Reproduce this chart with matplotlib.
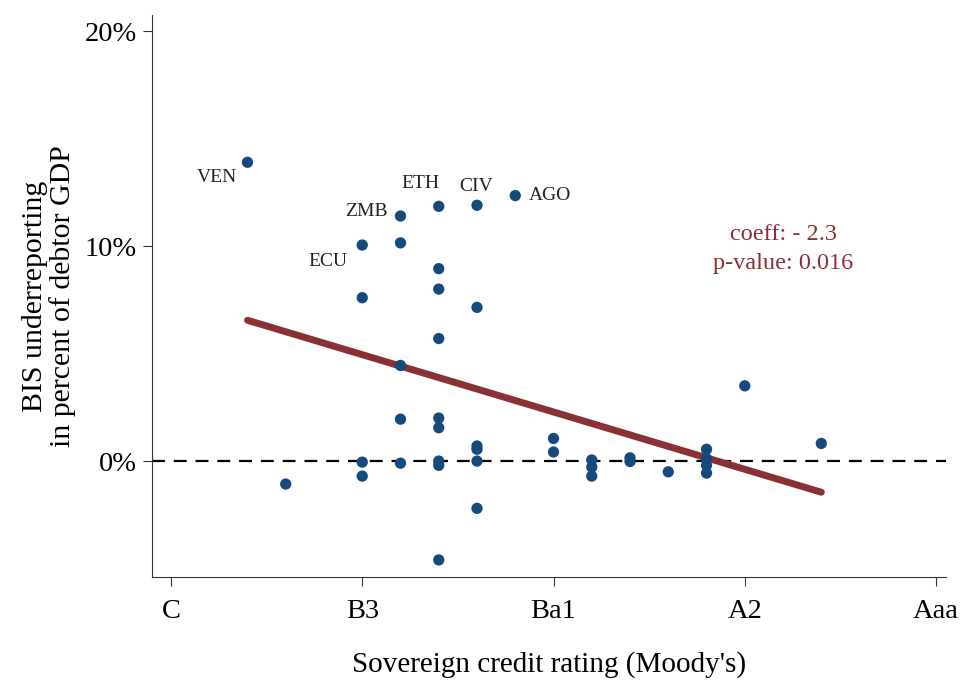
import matplotlib.pyplot as plt

plt.rcParams['font.family'] = ['Liberation Serif', 'DejaVu Serif']

# rating scale: C=0 ... Aaa=20
tick_pos = [0, 5, 10, 15, 20]
tick_labels = ["C", "B3", "Ba1", "A2", "Aaa"]

# scatter points (rating notch, underreporting in % of GDP)
rating = [2, 3,
          5, 5, 5, 5,
          6, 6, 6, 6, 6,
          7, 7, 7, 7, 7, 7, 7, 7, 7,
          8, 8, 8, 8, 8, 8,
          9,
          10, 10,
          11, 11, 11,
          12, 12,
          13,
          14, 14, 14, 14,
          15,
          17]
underrep = [13.9, -1.07,
            10.05, 7.6, -0.05, -0.7,
            11.4, 10.15, 4.45, 1.95, -0.1,
            11.85, 8.95, 8.0, 5.7, 2.0, 1.55, 0.0, -0.2, -4.6,
            11.9, 7.15, 0.7, 0.55, 0.0, -2.2,
            12.35,
            1.05, 0.42,
            0.05, -0.28, -0.7,
            0.15, -0.02,
            -0.5,
            0.55, 0.1, -0.2, -0.56,
            3.5,
            0.82]

# labelled countries
lab_names = ["VEN", "ZMB", "ETH", "CIV", "AGO", "ECU"]
lab_x = [1.2, 5.12, 6.53, 7.97, 9.9, 4.1]
lab_y = [13.2, 11.6, 12.9, 12.75, 12.35, 9.3]

# fitted line end points
fit_x = [2, 17]
fit_y = [6.55, -1.45]

dot_col = "#174a7c"
line_col = "#8b3035"

fig = plt.figure(figsize=(9.61, 6.83), dpi=100)
ax = fig.add_axes([0.158, 0.155, 0.826, 0.823])

ax.axhline(0, color="black", lw=1.6, ls=(0, (5.8, 4)), zorder=1)
ax.scatter(rating, underrep, s=66, color=dot_col, zorder=3, edgecolors="none")
ax.plot(fit_x, fit_y, color=line_col, lw=5, solid_capstyle="round", zorder=2)

for n, x, y in zip(lab_names, lab_x, lab_y):
    ax.text(x, y, n, fontsize=14, ha="center", va="center", color="#222222")

ax.text(16.0, 10.55, "coeff: - 2.3", fontsize=17.5, ha="center", va="center", color=line_col)
ax.text(16.0, 9.2, "p-value: 0.016", fontsize=17.5, ha="center", va="center", color=line_col)

ax.set_xlim(-0.5, 20.25)
ax.set_ylim(-5.4, 20.75)
ax.set_xticks(tick_pos)
ax.set_xticklabels(tick_labels)
ax.set_yticks([0, 10, 20])
ax.set_yticklabels(["0%", "10%", "20%"])
ax.tick_params(labelsize=20.5, length=6.5, color="#333333")
ax.tick_params(axis="x", pad=9)
ax.tick_params(axis="y", pad=4.5)

for s in ["top", "right"]:
    ax.spines[s].set_visible(False)
for s in ["left", "bottom"]:
    ax.spines[s].set_color("#333333")

ax.set_xlabel("Sovereign credit rating (Moody's)", fontsize=21, labelpad=20)
ax.set_ylabel("BIS underreporting\nin percent of debtor GDP", fontsize=21.5, labelpad=6, linespacing=1.05)

fig.savefig("out.png", dpi=100)
